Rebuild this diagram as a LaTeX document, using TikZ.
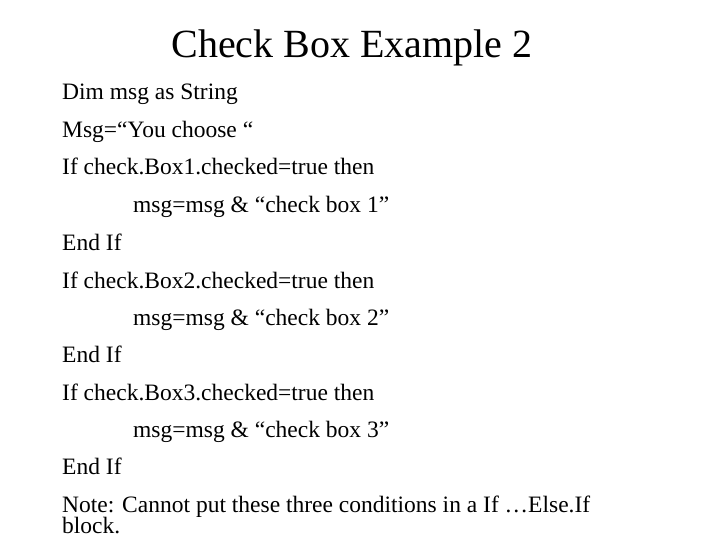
\documentclass[tikz,border=0pt]{standalone}
\usepackage{fontspec}
\setmainfont{Liberation Serif}
\begin{document}
\begin{tikzpicture}[x=1pt,y=-1pt,
  body/.style={anchor=base west,inner sep=0pt,font=\fontsize{23.5}{23.5}\selectfont},
  ttl/.style={anchor=base,inner sep=0pt,font=\fontsize{40}{40}\selectfont}]
\useasboundingbox (0,0) rectangle (720,540);
\node[ttl] (t) at (352,58) {Check Box Example 2};
\node[body] (l1) at (62,100) {Dim msg as String};
\node[body] (l2) at (62,138) {Msg=“You choose “};
\node[body] (l3) at (62,175) {If check.Box1.checked=true then};
\node[body] (l4) at (133,213) {msg=msg \& “check box 1”};
\node[body] (l5) at (62,250) {End If};
\node[body] (l6) at (62,288) {If check.Box2.checked=true then};
\node[body] (l7) at (133,325) {msg=msg \& “check box 2”};
\node[body] (l8) at (62,362) {End If};
\node[body] (l9) at (62,400) {If check.Box3.checked=true then};
\node[body] (l10) at (133,437) {msg=msg \& “check box 3”};
\node[body] (l11) at (62,474) {End If};
\node[body] (l12) at (62,512) {Note: Cannot put these three conditions in a If …Else.If};
\node[body] (l13) at (62,533) {block.};
\end{tikzpicture}
\end{document}
